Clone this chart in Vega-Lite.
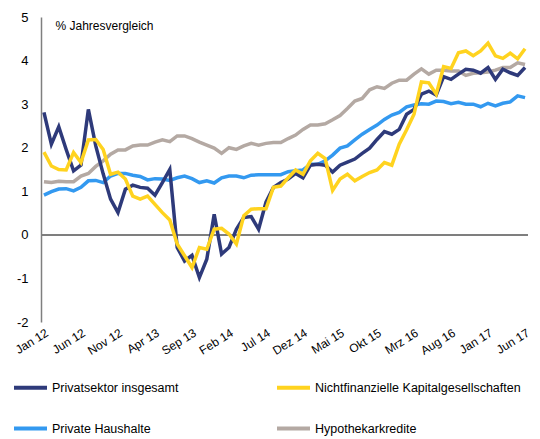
{
  "$schema": "https://vega.github.io/schema/vega-lite/v6.json",
  "width": 487,
  "height": 305,
  "autosize": {"type": "none"},
  "padding": {"left": 41, "top": 17, "right": 12, "bottom": 117},
  "background": "white",
  "config": {
    "view": {"stroke": null},
    "font": "Liberation Sans",
    "axis": {"labelColor": "black", "labelFont": "Liberation Sans", "titleFont": "Liberation Sans"},
    "legend": {"labelFont": "Liberation Sans"}
  },
  "data": {
    "values": [
      {"m":"Jan 12","P":2.81,"N":1.9,"H":0.91,"K":1.22},
      {"m":"Feb 12","P":2.08,"N":1.58,"H":0.99,"K":1.2},
      {"m":"Mrz 12","P":2.48,"N":1.5,"H":1.05,"K":1.23},
      {"m":"Apr 12","P":1.96,"N":1.49,"H":1.06,"K":1.22},
      {"m":"Mai 12","P":1.47,"N":1.89,"H":1.01,"K":1.22},
      {"m":"Jun 12","P":1.6,"N":1.66,"H":1.09,"K":1.35},
      {"m":"Jul 12","P":2.88,"N":2.18,"H":1.24,"K":1.41},
      {"m":"Aug 12","P":2.04,"N":2.19,"H":1.25,"K":1.57},
      {"m":"Sep 12","P":1.4,"N":1.96,"H":1.2,"K":1.7},
      {"m":"Okt 12","P":0.82,"N":1.39,"H":1.35,"K":1.85},
      {"m":"Nov 12","P":0.51,"N":1.44,"H":1.41,"K":1.95},
      {"m":"Dez 12","P":1.05,"N":1.28,"H":1.41,"K":1.95},
      {"m":"Jan 13","P":1.14,"N":0.89,"H":1.37,"K":2.04},
      {"m":"Feb 13","P":1.09,"N":0.82,"H":1.34,"K":2.06},
      {"m":"Mrz 13","P":1.07,"N":0.89,"H":1.26,"K":2.06},
      {"m":"Apr 13","P":0.91,"N":0.7,"H":1.29,"K":2.13},
      {"m":"Mai 13","P":1.2,"N":0.51,"H":1.28,"K":2.18},
      {"m":"Jun 13","P":1.5,"N":0.34,"H":1.25,"K":2.14},
      {"m":"Jul 13","P":-0.29,"N":-0.21,"H":1.31,"K":2.27},
      {"m":"Aug 13","P":-0.6,"N":-0.48,"H":1.35,"K":2.27},
      {"m":"Sep 13","P":-0.47,"N":-0.75,"H":1.29,"K":2.21},
      {"m":"Okt 13","P":-0.98,"N":-0.29,"H":1.2,"K":2.13},
      {"m":"Nov 13","P":-0.56,"N":-0.33,"H":1.24,"K":2.06},
      {"m":"Dez 13","P":0.47,"N":0.13,"H":1.19,"K":1.99},
      {"m":"Jan 14","P":-0.44,"N":0.15,"H":1.31,"K":1.87},
      {"m":"Feb 14","P":-0.29,"N":0.02,"H":1.35,"K":2.0},
      {"m":"Mrz 14","P":0.13,"N":-0.21,"H":1.35,"K":1.96},
      {"m":"Apr 14","P":0.4,"N":0.44,"H":1.31,"K":2.04},
      {"m":"Mai 14","P":0.42,"N":0.59,"H":1.37,"K":2.1},
      {"m":"Jun 14","P":0.13,"N":0.6,"H":1.38,"K":2.06},
      {"m":"Jul 14","P":0.75,"N":0.6,"H":1.38,"K":2.1},
      {"m":"Aug 14","P":1.09,"N":1.09,"H":1.38,"K":2.12},
      {"m":"Sep 14","P":1.2,"N":1.12,"H":1.38,"K":2.12},
      {"m":"Okt 14","P":1.28,"N":1.31,"H":1.45,"K":2.21},
      {"m":"Nov 14","P":1.41,"N":1.49,"H":1.47,"K":2.29},
      {"m":"Dez 14","P":1.31,"N":1.39,"H":1.49,"K":2.42},
      {"m":"Jan 15","P":1.6,"N":1.7,"H":1.62,"K":2.52},
      {"m":"Feb 15","P":1.62,"N":1.87,"H":1.62,"K":2.52},
      {"m":"Mrz 15","P":1.6,"N":1.75,"H":1.7,"K":2.55},
      {"m":"Apr 15","P":1.44,"N":1.02,"H":1.83,"K":2.64},
      {"m":"Mai 15","P":1.6,"N":1.28,"H":1.99,"K":2.74},
      {"m":"Jun 15","P":1.67,"N":1.39,"H":2.04,"K":2.9},
      {"m":"Jul 15","P":1.74,"N":1.24,"H":2.18,"K":3.07},
      {"m":"Aug 15","P":1.87,"N":1.34,"H":2.31,"K":3.13},
      {"m":"Sep 15","P":1.99,"N":1.43,"H":2.42,"K":3.33},
      {"m":"Okt 15","P":2.19,"N":1.49,"H":2.52,"K":3.4},
      {"m":"Nov 15","P":2.37,"N":1.66,"H":2.65,"K":3.36},
      {"m":"Dez 15","P":2.31,"N":1.6,"H":2.75,"K":3.48},
      {"m":"Jan 16","P":2.42,"N":2.08,"H":2.81,"K":3.55},
      {"m":"Feb 16","P":2.77,"N":2.41,"H":2.94,"K":3.55},
      {"m":"Mrz 16","P":2.88,"N":2.77,"H":2.98,"K":3.69},
      {"m":"Apr 16","P":3.23,"N":3.51,"H":3.01,"K":3.81},
      {"m":"Mai 16","P":3.3,"N":3.49,"H":3.0,"K":3.69},
      {"m":"Jun 16","P":3.21,"N":3.23,"H":3.07,"K":3.78},
      {"m":"Jul 16","P":3.63,"N":3.86,"H":3.06,"K":3.78},
      {"m":"Aug 16","P":3.57,"N":3.82,"H":3.01,"K":3.76},
      {"m":"Sep 16","P":3.69,"N":4.18,"H":3.04,"K":3.76},
      {"m":"Okt 16","P":3.8,"N":4.22,"H":3.0,"K":3.66},
      {"m":"Nov 16","P":3.78,"N":4.11,"H":3.0,"K":3.71},
      {"m":"Dez 16","P":3.71,"N":4.22,"H":2.94,"K":3.72},
      {"m":"Jan 17","P":3.84,"N":4.4,"H":3.02,"K":3.74},
      {"m":"Feb 17","P":3.57,"N":4.11,"H":2.96,"K":3.78},
      {"m":"Mrz 17","P":3.8,"N":4.05,"H":3.02,"K":3.84},
      {"m":"Apr 17","P":3.72,"N":4.17,"H":3.05,"K":3.84},
      {"m":"Mai 17","P":3.66,"N":4.04,"H":3.19,"K":3.95},
      {"m":"Jun 17","P":3.84,"N":4.27,"H":3.15,"K":3.91}
    ]
  },
  "layer": [
    {
      "mark": {"type": "rule", "color": "#7f7f7f", "strokeWidth": 1.5},
      "encoding": {"y": {"datum": 0, "type": "quantitative", "scale": {"domain": [-2, 5]}}}
    },
    {
      "transform": [{"fold": ["K", "H", "P", "N"], "as": ["s", "v"]}],
      "mark": {"type": "line", "strokeWidth": 3.5, "strokeJoin": "miter", "strokeCap": "butt"},
      "encoding": {
        "x": {
          "field": "m", "type": "ordinal", "sort": null,
          "scale": {"type": "point", "padding": 0.4},
          "axis": {
            "title": null,
            "values": ["Jan 12","Jun 12","Nov 12","Apr 13","Sep 13","Feb 14","Jul 14","Dez 14","Mai 15","Okt 15","Mrz 16","Aug 16","Jan 17","Jun 17"],
            "labelAngle": -32, "labelAlign": "right", "labelBaseline": "top",
            "labelPadding": 5, "labelFontSize": 12, "domain": false, "ticks": false, "grid": false
          }
        },
        "y": {
          "field": "v", "type": "quantitative",
          "scale": {"domain": [-2, 5], "nice": false},
          "axis": {
            "values": [-2, -1, 0, 1, 2, 3, 4, 5],
            "labelExpr": "'' + datum.value",
            "title": "% Jahresvergleich", "titleAngle": 0, "titleX": 14, "titleY": 8,
            "titleAlign": "left", "titleBaseline": "middle", "titleFontWeight": "normal", "titleFontSize": 12, "titleColor": "black",
            "labelFontSize": 13, "labelPadding": 13, "ticks": false, "grid": false,
            "domain": true, "domainColor": "#7f7f7f", "domainWidth": 1.5
          }
        },
        "color": {
          "field": "s", "type": "nominal",
          "scale": {"domain": ["P", "N", "H", "K"], "range": ["#2E3A7A", "#FFD31F", "#3399F0", "#B4A9A3"]},
          "legend": {
            "title": null, "orient": "none", "legendX": -29, "legendY": 352, "direction": "horizontal", "columns": 2,
            "columnPadding": 90, "rowPadding": 14,
            "symbolType": "stroke", "symbolSize": 1089, "symbolStrokeWidth": 4, "labelOffset": 3,
            "labelFontSize": 12.5, "labelColor": "black", "labelLimit": 400,
            "labelExpr": "datum.label == 'P' ? 'Privatsektor insgesamt' : datum.label == 'N' ? 'Nichtfinanzielle Kapitalgesellschaften' : datum.label == 'H' ? 'Private Haushalte' : 'Hypothekarkredite'"
          }
        }
      }
    }
  ]
}
